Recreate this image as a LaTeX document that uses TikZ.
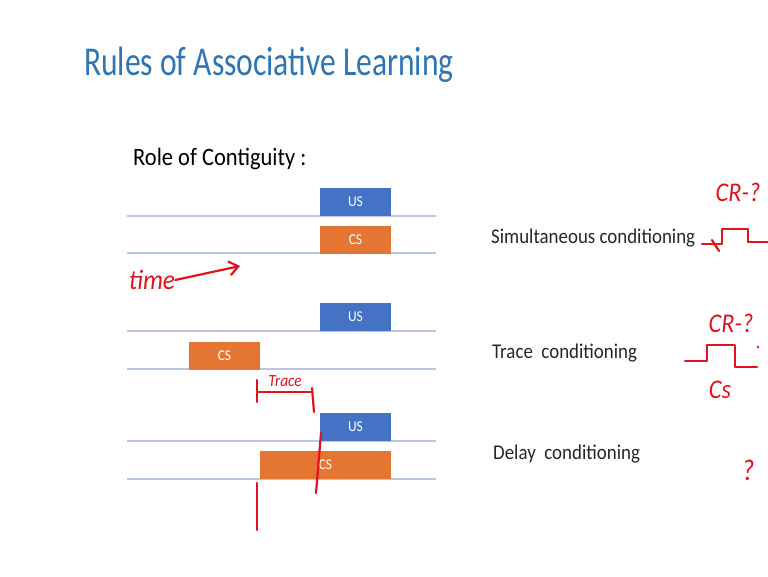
\documentclass[tikz,border=0pt]{standalone}
\usepackage{fontspec}
\setmainfont{Carlito}[FakeStretch=0.9]
\newfontfamily\titlefont{Carlito}[FakeStretch=0.77]
\usepackage{tikz}
\usetikzlibrary{arrows.meta}

\definecolor{titleblue}{RGB}{46,117,182}
\definecolor{usblue}{RGB}{68,114,196}
\definecolor{csorange}{RGB}{228,117,50}
\definecolor{lineblue}{RGB}{185,200,228}
\definecolor{penred}{RGB}{228,18,30}

\tikzset{
	usbox/.style={fill=usblue, text=white, minimum width=71pt, minimum height=28pt, inner sep=0pt, font=\fontsize{15}{15}\selectfont},
	csbox/.style={usbox, fill=csorange},
	timeline/.style={lineblue, line width=1.3pt},
	pen/.style={penred, line width=2.2pt, line cap=round, line join=round},
	handtext/.style={text=penred, inner sep=0pt, font=\itshape\fontsize{27}{27}\selectfont},
	rowlabel/.style={anchor=base west, inner sep=0pt, text=black!85, font=\fontsize{21}{21}\selectfont}
}

\begin{document}
\begin{tikzpicture}[x=1pt, y=-1pt]
	\useasboundingbox (0,0) rectangle (768,576);
	\node [anchor=base west, inner sep=0pt, text=titleblue, font=\titlefont\fontsize{41}{41}\selectfont] (Title) at (84,75) {Rules of Associative Learning};
	\node [anchor=base west, inner sep=0pt, font=\fontsize{25}{25}\selectfont] (Role) at (133,165) {Role of Contiguity :};

	\foreach \y in {216,253,331,369,441,479}
		\draw [timeline] (127,\y) -- (436,\y);

	\node [usbox] (US1) at (355.5,201.5) {US};
	\node [csbox] (CS1) at (355.5,240) {CS};
	\node [usbox] (US2) at (355.5,317) {US};
	\node [csbox] (CS2) at (224.5,355.5) {CS};
	\node [usbox] (US3) at (355.5,427) {US};
	\node [csbox, minimum width=131pt] (CS3) at (325.5,465) {CS};

	\node [rowlabel] (Simul) at (491,243) {Simultaneous conditioning};
	\node [rowlabel] (Trace) at (492,358) {Trace\ \ conditioning};
	\node [rowlabel] (Delay) at (493,459) {Delay\ \ conditioning};

	\node [handtext, font=\itshape\fontsize{28}{28}\selectfont] (Time) at (152,280) {time};
	\draw [pen, -{Straight Barb[length=9pt, width=14pt]}] (Time.east) -- (240,266);

	\node [handtext] (CR1) at (738,192) {CR-?};
	\draw [pen] (702,244) -- (722,244) -- (722,229) -- (748,229) -- (748,242) -- (768,242);
	\draw [pen] (712,240) -- (719,251);

	\node [handtext] (CR2) at (731,323) {CR-?};
	\draw [pen] (685,361) -- (707,361) -- (707,345) -- (735,345) -- (735,367) -- (757,367);
	\fill [penred] (758,347) circle (1.3pt);
	\node [handtext] (CSmark) at (720,390) {Cs};

	\draw [pen] (257,380) -- (257,402);
	\draw [pen] (257,392) -- (312,392);
	\draw [pen] (312,388) -- (314,412);
	\node [handtext, font=\itshape\fontsize{17}{17}\selectfont] (TraceNote) at (285,381) {Trace};

	\draw [pen] (257,483) -- (257,530);
	\draw [pen] (321,433) -- (316,493);
	\node [handtext, font=\itshape\fontsize{30}{30}\selectfont] (Query) at (748,470) {?};
\end{tikzpicture}
\end{document}
